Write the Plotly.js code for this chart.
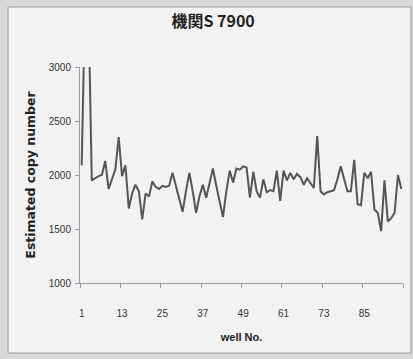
<!DOCTYPE html>
<html>
<head>
<meta charset="utf-8">
<script src="https://cdn.plot.ly/plotly-3.0.1.min.js"></script>
<style>html,body{margin:0;padding:0;background:#dcdcdc;}#chart{width:413px;height:359px;}</style>
</head>
<body>
<div id="chart"></div>
<script>
// well numbers 1..96
const wells = [1,2,3,4,5,6,7,8,9,10,11,12,13,14,15,16,17,18,19,20,21,22,23,24,25,26,27,28,29,30,31,32,33,34,35,36,37,38,39,40,41,42,43,44,45,46,47,48,49,50,51,52,53,54,55,56,57,58,59,60,61,62,63,64,65,66,67,68,69,70,71,72,73,74,75,76,77,78,79,80,81,82,83,84,85,86,87,88,89,90,91,92,93,94,95,96];
// estimated copy number (wells 2 and 3 run off the top of the axis)
const copyNumber = [2090,3600,3600,1950,1970,1990,2000,2130,1870,1960,2050,2350,1990,2090,1690,1830,1910,1850,1590,1830,1800,1940,1890,1870,1900,1890,1900,2020,1900,1780,1660,1850,2020,1850,1650,1800,1910,1790,1930,2060,1900,1760,1610,1850,2040,1930,2060,2050,2080,2070,1790,2030,1850,1790,1960,1840,1860,1850,2040,1760,2040,1950,2020,1960,2010,1980,1910,1970,1920,1880,2360,1850,1820,1840,1850,1860,1960,2080,1960,1850,1850,2140,1730,1720,2020,1970,2030,1680,1650,1480,1950,1570,1600,1650,2000,1870];
const xTickVals = [1,13,25,37,49,61,73,85];
const xTickText = ["1","13","25","37","49","61","73","85"];
const xBoundaryTicks = [0.5,12.5,24.5,36.5,48.5,60.5,72.5,84.5,96.5];
const yTickVals = [1000,1500,2000,2500,3000];
const titleText = "機関S 7900";
const xTitle = "well No.";
const yTitle = "Estimated copy number";

const L = 80, R = 10, T = 67, B = 76;
const W = 413, H = 359;
const pw = W - L - R, ph = H - T - B;
function px2x(p){ return (p - L) / pw; }
function py2y(p){ return (H - B - p) / ph; }

const trace = {
  x: wells, y: copyNumber, type: 'scatter', mode: 'lines',
  line: {color: '#555555', width: 2}, hoverinfo: 'skip', showlegend: false
};

const layout = {
  width: W, height: H,
  margin: {l: L, r: R, t: T, b: B},
  paper_bgcolor: '#d9d9d9',
  plot_bgcolor: 'rgba(0,0,0,0)',
  title: {text: titleText, x: 0.516, xanchor: 'center', y: 1 - 21/359, yanchor: 'middle', yref: 'container',
          font: {family: '"Noto Sans CJK JP", "Liberation Sans", sans-serif', size: 16, color: '#222', weight: 'bold'}},
  xaxis: {
    range: [0.5, 96.5], tickvals: xTickVals, ticktext: xTickText,
    ticks: '', showgrid: false, zeroline: false,
    showline: true, linecolor: '#9a9a9a', linewidth: 1,
    tickfont: {family: '"Liberation Sans", Arial, sans-serif', size: 10, color: '#333'},
    ticklabelstandoff: 21,
    minor: {tickvals: xBoundaryTicks, ticks: 'outside', ticklen: 4, tickcolor: '#9a9a9a', showgrid: false},
    title: {text: xTitle, standoff: 15, font: {family: '"Liberation Sans", Arial, sans-serif', size: 11, color: '#222', weight: 'bold'}}
  },
  yaxis: {
    range: [1000, 3000], tickvals: yTickVals,
    ticks: 'outside', ticklen: 4, tickcolor: '#9a9a9a',
    showgrid: false, zeroline: false,
    showline: true, linecolor: '#9a9a9a', linewidth: 1,
    tickfont: {family: '"Liberation Sans", Arial, sans-serif', size: 10, color: '#333'},
    ticklabelstandoff: 2,
    title: {text: yTitle, standoff: 10, font: {family: '"DejaVu Sans", sans-serif', size: 12.5, color: '#222', weight: 'bold'}}
  },
  shapes: [{
    type: 'rect', xref: 'paper', yref: 'paper', layer: 'below',
    x0: px2x(8), x1: px2x(411), y0: py2y(353), y1: py2y(7),
    fillcolor: '#f2f2f2', line: {color: '#9a9a9a', width: 1}
  }]
};

Plotly.newPlot('chart', [trace], layout, {displayModeBar: false, staticPlot: true});
</script>
</body>
</html>
